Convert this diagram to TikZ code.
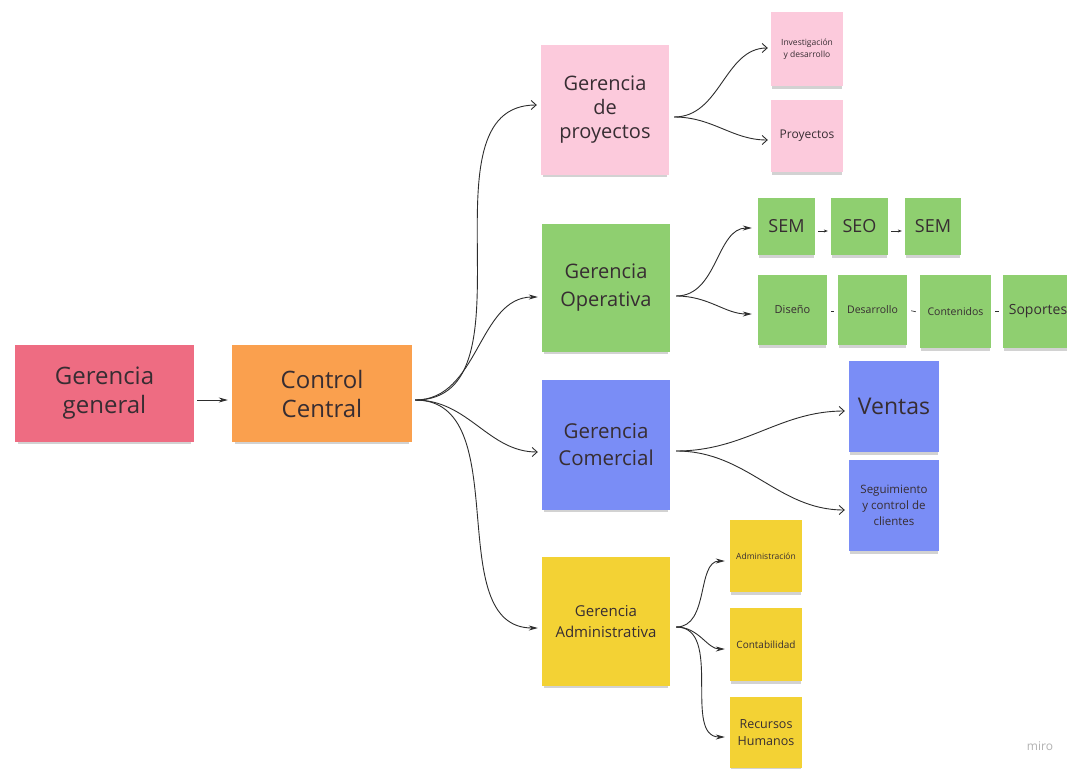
\documentclass[tikz,border=0pt]{standalone}
\usepackage{fontspec}
\setmainfont{Open Sans}
\usetikzlibrary{arrows.meta,shadows}
\definecolor{cgg}{RGB}{238,108,130}
\definecolor{ccc}{RGB}{250,160,78}
\definecolor{cpk}{RGB}{252,202,220}
\definecolor{cgr}{RGB}{143,207,112}
\definecolor{cbl}{RGB}{122,141,246}
\definecolor{cye}{RGB}{243,210,52}
\definecolor{ctx}{RGB}{55,45,50}
\definecolor{cln}{RGB}{45,45,45}
\begin{document}
\begin{tikzpicture}[x=1pt,y=-1pt,
  note/.style={rectangle, inner sep=0pt, align=center, text=ctx,
    drop shadow={shadow xshift=0pt, shadow yshift=-4pt, shadow scale=0.97, opacity=0.25, fill=black!70}},
  conn/.style={draw=cln, line width=0.9pt},
  openarr/.style={conn, -{Straight Barb[length=5pt,width=9pt]}},
  fillarr/.style={conn, -{Stealth[length=9pt,width=5pt]}},
  smallarr/.style={conn, line width=0.6pt, -{Stealth[length=4pt,width=3pt]}, shorten <=3pt, shorten >=3pt},
  dashlink/.style={conn, line width=0.6pt, shorten <=4pt, shorten >=4pt}
]
\useasboundingbox (0,0) rectangle (1067,768);
\clip (0,0) rectangle (1067,768);
\fill[white] (0,0) rectangle (1067,768);

% main nodes
\node[note, fill=cgg, minimum width=179pt, minimum height=97pt, font=\fontsize{24}{29}\selectfont] (gg) at (104.5,393.5) {Gerencia\\general};
\node[note, fill=ccc, minimum width=180pt, minimum height=97pt, font=\fontsize{24}{29}\selectfont] (cc) at (322,393.5) {Control\\Central};

\node[note, fill=cpk, minimum width=128pt, minimum height=130pt, font=\fontsize{20}{24}\selectfont] (gp) at (605,110) {Gerencia\\de\\proyectos};
\node[note, fill=cgr, minimum width=128pt, minimum height=128pt, font=\fontsize{20}{28}\selectfont] (go) at (606,288) {Gerencia\\Operativa};
\node[note, fill=cbl, minimum width=128pt, minimum height=130pt, font=\fontsize{20.5}{27}\selectfont] (gc) at (606,445) {Gerencia\\Comercial};
\node[note, fill=cye, minimum width=128pt, minimum height=129pt, font=\fontsize{15}{21}\selectfont] (ga) at (606,621.5) {Gerencia\\Administrativa};

% proyectos children
\node[note, fill=cpk, minimum width=72pt, minimum height=74pt, font=\fontsize{8.5}{12}\selectfont] (inv) at (807,49) {Investigación\\y desarrollo};
\node[note, fill=cpk, minimum width=72pt, minimum height=72pt, font=\fontsize{12}{14}\selectfont] (proy) at (807,136) {Proyectos};

% operativa children
\node[note, fill=cgr, minimum width=57pt, minimum height=57pt, font=\fontsize{18}{20}\selectfont] (sem1) at (786.5,226.5) {SEM};
\node[note, fill=cgr, minimum width=57pt, minimum height=57pt, font=\fontsize{18}{20}\selectfont] (seo) at (859.5,226.5) {SEO};
\node[note, fill=cgr, minimum width=56pt, minimum height=57pt, font=\fontsize{18}{20}\selectfont] (sem2) at (933,226.5) {SEM};
\node[note, fill=cgr, minimum width=69pt, minimum height=70pt, font=\fontsize{11}{13}\selectfont] (dis) at (792.5,310) {Diseño};
\node[note, fill=cgr, minimum width=69pt, minimum height=70pt, font=\fontsize{10.5}{13}\selectfont] (des) at (872.5,310) {Desarrollo};
\node[note, fill=cgr, minimum width=71pt, minimum height=73pt, font=\fontsize{10.5}{13}\selectfont] (con) at (955.5,311.5) {Contenidos};
\node[note, fill=cgr, minimum width=70pt, minimum height=73pt, font=\fontsize{14}{16}\selectfont] (sop) at (1038,311.5) {Soportes};

% comercial children
\node[note, fill=cbl, minimum width=90pt, minimum height=91pt, font=\fontsize{23}{26}\selectfont] (ven) at (894,406.5) {Ventas};
\node[note, fill=cbl, minimum width=90pt, minimum height=91pt, font=\fontsize{11.5}{16}\selectfont] (seg) at (894,505.5) {Seguimiento\\y control de\\clientes};

% administrativa children
\node[note, fill=cye, minimum width=72pt, minimum height=72pt, font=\fontsize{8.5}{10}\selectfont] (adm) at (766,556) {Administración};
\node[note, fill=cye, minimum width=72pt, minimum height=73pt, font=\fontsize{10}{12}\selectfont] (cont) at (766,644.5) {Contabilidad};
\node[note, fill=cye, minimum width=72pt, minimum height=71pt, font=\fontsize{12.5}{17}\selectfont] (rh) at (766,732.5) {Recursos\\Humanos};

% watermark
\node[text=black!30, font=\fontsize{12}{14}\selectfont] (miro) at (1040,746) {miro};

% connectors
\draw[fillarr, shorten <=3pt, shorten >=4pt] ([yshift=-6.5pt]gg.east) -- ([yshift=-6.5pt]cc.east -| cc.west);

\draw[openarr, shorten >=4pt] ([xshift=3pt,yshift=-6.5pt]cc.east) to[out=0,in=180] ([yshift=5pt]gp.west);
\draw[fillarr, shorten >=4pt] ([xshift=3pt,yshift=-6.5pt]cc.east) to[out=0,in=180] ([yshift=-9pt]go.west);
\draw[openarr, shorten >=4pt] ([xshift=3pt,yshift=-6.5pt]cc.east) to[out=0,in=180] ([yshift=-7pt]gc.west);
\draw[fillarr, shorten >=4pt] ([xshift=3pt,yshift=-6.5pt]cc.east) to[out=0,in=180] ([yshift=-6.5pt]ga.west);

\draw[openarr, shorten >=3pt] ([xshift=5pt,yshift=-7pt]gp.east) to[out=0,in=180] ([yshift=1pt]inv.west);
\draw[openarr, shorten >=3pt] ([xshift=5pt,yshift=-7pt]gp.east) to[out=0,in=180] ([yshift=-4pt]proy.west);

\draw[fillarr, shorten >=6pt] ([xshift=6pt,yshift=-8pt]go.east) to[out=0,in=180] ([yshift=-1.5pt]sem1.west);
\draw[fillarr, shorten >=6pt] ([xshift=6pt,yshift=-8pt]go.east) to[out=0,in=180] ([yshift=-4pt]dis.west);

\draw[openarr, shorten >=4pt] ([xshift=6pt,yshift=-6pt]gc.east) to[out=0,in=180] ([yshift=-4.5pt]ven.west);
\draw[openarr, shorten >=4pt] ([xshift=6pt,yshift=-6pt]gc.east) to[out=0,in=180] ([yshift=-4.5pt]seg.west);

\draw[fillarr, shorten >=5pt] ([xshift=6pt,yshift=-5.5pt]ga.east) to[out=0,in=180] ([yshift=-5pt]adm.west);
\draw[fillarr, shorten >=5pt] ([xshift=6pt,yshift=-5.5pt]ga.east) to[out=0,in=180] ([yshift=-4.5pt]cont.west);
\draw[fillarr, shorten >=5pt] ([xshift=6pt,yshift=-5.5pt]ga.east) to[out=0,in=180] ([yshift=-4.5pt]rh.west);

\draw[smallarr] ([yshift=-4.5pt]sem1.east) -- ([yshift=-4.5pt]seo.west);
\draw[smallarr] ([yshift=-4.5pt]seo.east) -- ([yshift=-4.5pt]sem2.west);

\draw[dashlink] ([yshift=-1pt]des.west) -- ([yshift=-1pt]dis.east);
\draw[dashlink] ([yshift=-1pt]con.west) -- ([yshift=0pt]des.east);
\draw[dashlink] ([yshift=0pt]sop.west) -- ([yshift=0pt]con.east);
\end{tikzpicture}
\end{document}
